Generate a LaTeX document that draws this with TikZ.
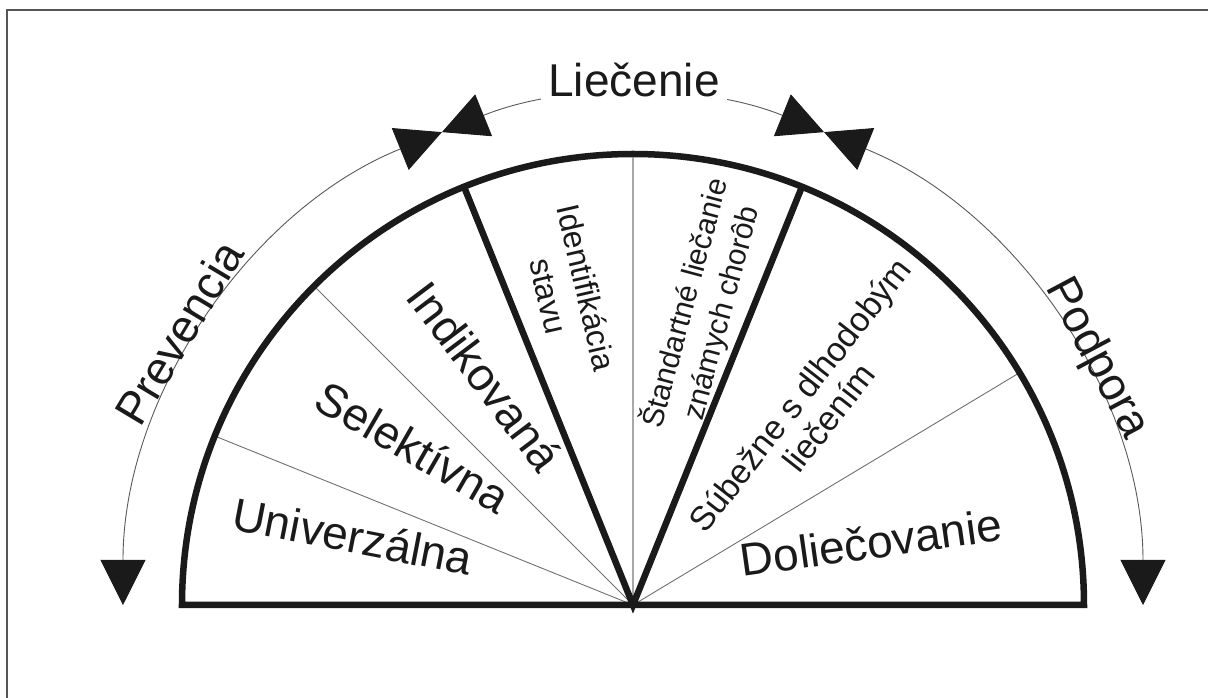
\documentclass[tikz,border=0pt]{standalone}
\usepackage{fontspec}
\setmainfont{Liberation Sans}
\usetikzlibrary{arrows.meta}
\definecolor{inkDark}{HTML}{1A1A1A}
\definecolor{rayGray}{HTML}{707070}
\definecolor{axisGray}{HTML}{A8A8A8}
\definecolor{frameGray}{HTML}{555555}
\tikzset{
    rim/.style={draw=inkDark, line width=6.5pt},
    thinRay/.style={draw=rayGray, line width=0.9pt},
    axisRay/.style={draw=axisGray, line width=1.8pt},
    frameLine/.style={draw=frameGray, line width=1.3pt},
    outerArc/.style={draw=black!65, line width=0.9pt,
        {Triangle[length=45pt,width=45pt,color=inkDark]}-{Triangle[length=45pt,width=45pt,color=inkDark]}},
    bigLabel/.style={font=\fontsize{46}{52}\selectfont, text=inkDark, anchor=mid, inner sep=0pt},
    arcLabel/.style={font=\fontsize{46}{52}\selectfont, text=inkDark, anchor=base, inner sep=0pt},
    smallLabel/.style={text=inkDark, align=center, anchor=center, inner sep=0pt}
}

\begin{document}
\begin{tikzpicture}[x=1pt,y=1pt]
\useasboundingbox (-633,-93) rectangle (575,605);

% frame
\draw[frameLine] (-626,-93) -- (-626,595) -- (575,595);

\coordinate (O) at (0,0);

% thin dividers
\foreach \a in {158,135,31} {
  \draw[thinRay] (O) -- (\a:451pt);
}
\draw[axisRay] (O) -- (90:451pt);

% half disc and main dividers
\draw[rim] (-451,0) arc[start angle=180, end angle=0, radius=451pt] -- cycle;
\draw[rim] (112:451pt) -- (O) -- (68:451pt);

% outer arcs
\draw[outerArc] (112:510pt) arc[start angle=112, end angle=180, radius=510pt];
\draw[outerArc] (68:510pt) arc[start angle=68, end angle=112, radius=510pt];
\draw[outerArc] (0:510pt) arc[start angle=0, end angle=68, radius=510pt];

% outer labels
\node[arcLabel, fill=white, inner sep=7pt] (liecenie) at (1,508) {Liečenie};
\node[arcLabel, rotate=59] (prevencia) at (149:513pt) {Prevencia};
\node[arcLabel, rotate=-62] (podpora) at (28:513pt) {Podpora};

% sector labels
\node[bigLabel, rotate=-11] (univ) at (-283,55) {Univerzálna};
\node[bigLabel, rotate=-30] (selekt) at (-227,146) {Selektívna};
\node[bigLabel, rotate=-53] (indik) at (-159,220) {Indikovaná};
\node[smallLabel, font=\fontsize{32}{38.5}\selectfont, rotate=-77] (ident) at (-65,313) {Identifikácia\\stavu};
\node[smallLabel, font=\fontsize{30}{37.5}\selectfont, rotate=75] (stand) at (70,297) {Štandartné liečanie\\známych chorôb};
\node[smallLabel, font=\fontsize{34}{37}\selectfont, rotate=52] (subez) at (181,199) {Súbežne s dlhodobým\\liečením};
\node[bigLabel, rotate=8] (dolie) at (240,49) {Doliečovanie};

\end{tikzpicture}
\end{document}
